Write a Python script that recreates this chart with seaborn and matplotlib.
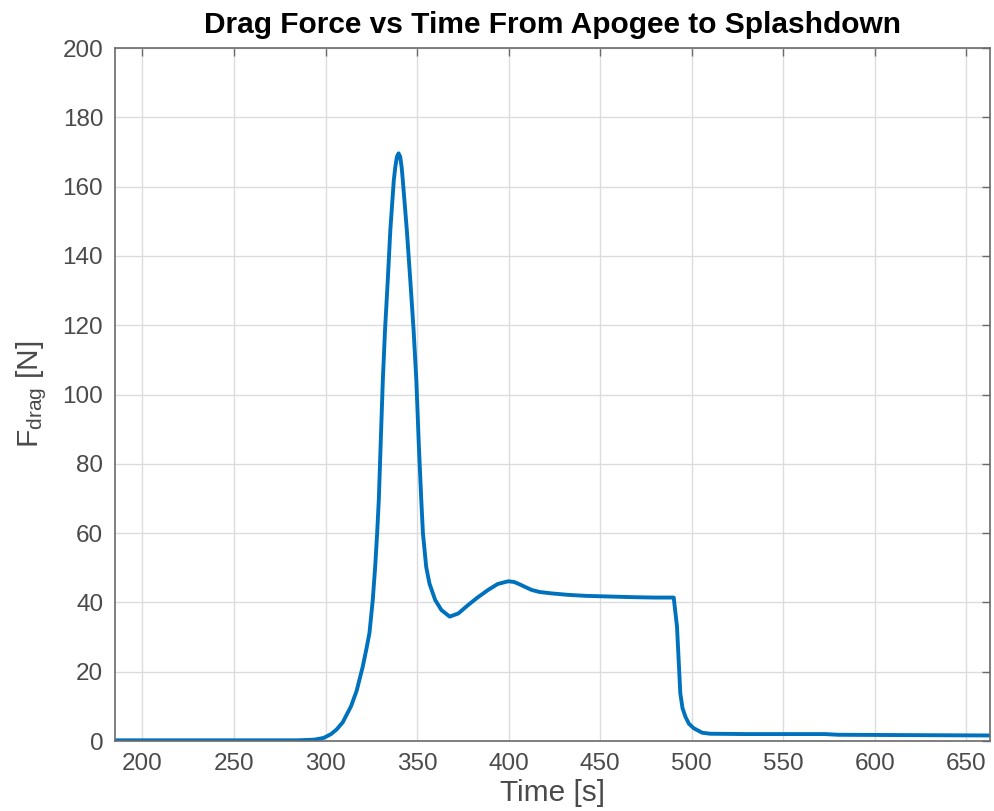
import matplotlib
matplotlib.use("Agg")
import matplotlib.pyplot as plt
import seaborn as sns
import pandas as pd

# Time [s]
time_s = [185, 250, 285, 294, 299, 303, 306, 309.4, 313.9, 317, 320.3, 322.3, 324, 325.8,
          327.1, 328.2, 329.1, 330.2, 331.3, 332.5, 334, 335.4, 337.3, 338.2, 339.0, 339.9,
          340.8, 341.6, 342.2, 344.4, 346.3, 348.1, 349.6, 351, 352.3, 353.2, 355, 356.8, 359.9,
          363.3, 367.8, 372.5, 377.8, 383, 388.8, 394, 396.1, 399.8, 403, 406.1, 408.9,
          412.6, 417, 423.5, 432, 441.8, 455, 469.1, 480, 490.2, 492, 492.9, 493.8, 495,
          496.6, 498.5, 501.1, 505.7, 510, 530, 573, 580, 620, 663]
# Drag force [N]
drag_n = [0.2, 0.2, 0.2, 0.4, 0.9, 2.0, 3.3, 5.4, 10.0, 14.5, 21.4, 26.5, 31.2, 40.7,
          50.2, 60.0, 69.6, 87.0, 104.2, 118.6, 133.0, 147.5, 161.9, 166.0, 168.6, 169.6,
          168.6, 165.5, 161.9, 147.5, 133.0, 118.6, 104.2, 85.0, 69.6, 60.0, 50.2, 45.4, 40.7,
          37.8, 35.9, 36.8, 39.2, 41.4, 43.6, 45.3, 45.6, 46.1, 45.9, 45.2, 44.5,
          43.6, 43.0, 42.6, 42.2, 41.9, 41.7, 41.5, 41.4, 41.4, 33.0, 23.4, 13.8, 9.5,
          7.0, 5.0, 3.7, 2.4, 2.1, 2.0, 2.0, 1.8, 1.7, 1.6]

x_ticks = [200, 250, 300, 350, 400, 450, 500, 550, 600, 650]
y_ticks = [0, 20, 40, 60, 80, 100, 120, 140, 160, 180, 200]

df = pd.DataFrame({"Time [s]": time_s, "Fdrag": drag_n})

sns.set_style("white")
plt.rcParams["font.family"] = ["Liberation Sans", "DejaVu Sans"]
plt.rcParams["mathtext.fontset"] = "custom"
plt.rcParams["mathtext.rm"] = "Liberation Sans"
plt.rcParams["mathtext.it"] = "Liberation Sans"

fig = plt.figure(figsize=(9.95, 8.11), dpi=100)
ax = fig.add_axes([0.1156, 0.0863, 0.8794, 0.8545])

sns.lineplot(data=df, x="Time [s]", y="Fdrag", ax=ax, color="#0072BD",
             linewidth=2.8, sort=False, estimator=None)

ax.set_xlim(185, 663)
ax.set_ylim(0, 200)
ax.set_xticks(x_ticks)
ax.set_yticks(y_ticks)
ax.grid(True, color="#dcdcdc", linewidth=1.0)
ax.set_axisbelow(True)

for s in ax.spines.values():
    s.set_visible(True)
    s.set_color("#6a6a6a")
    s.set_linewidth(1.2)

ax.tick_params(axis="both", which="both", direction="in", length=6, width=1,
               color="#6a6a6a", labelcolor="#4a4a4a", labelsize=17.5,
               top=True, right=True, pad=8.5)

ax.set_xlabel("Time [s]", fontsize=21.5, color="#4a4a4a", labelpad=3)
ax.set_ylabel(r"F$_{\mathrm{drag}}$ [N]", fontsize=21.5, color="#4a4a4a", labelpad=10)
ax.set_title("Drag Force vs Time From Apogee to Splashdown", fontsize=21.5,
             fontweight="bold", color="black", pad=10.5)

fig.savefig("out.png", dpi=100)
